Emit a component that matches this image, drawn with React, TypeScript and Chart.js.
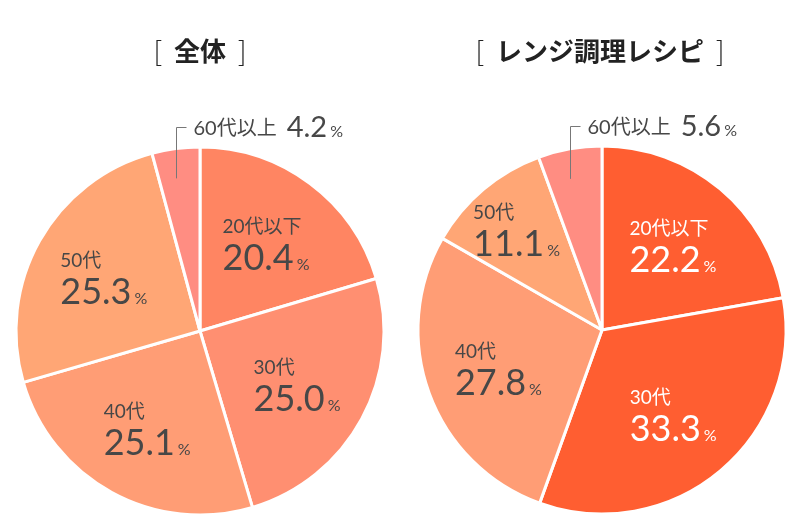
import React, { useEffect, useRef } from "react";
import { Chart, registerables } from "chart.js";

Chart.register(...registerables);

// Age groups shared by both pies, clockwise from 12 o'clock
const ageGroups = ["20代以下", "30代", "40代", "50代", "60代以上"];

// Share of users per age group (%)
const overallShares = [20.4, 25.0, 25.1, 25.3, 4.2];
const microwaveShares = [22.2, 33.3, 27.8, 11.1, 5.6];

const overallTitle = "全体";
const microwaveTitle = "レンジ調理レシピ";

const overallColors = ["#FF8562", "#FF8F71", "#FF9D75", "#FFA675", "#FF8D82"];
const microwaveColors = ["#FF5E31", "#FF5E31", "#FF9D75", "#FFA675", "#FF8D82"];

// Slices whose labels are drawn in white
const overallWhiteLabels = [false, false, false, false, false];
const microwaveWhiteLabels = [true, true, false, false, false];

const FONT = '"Lato", "Noto Sans CJK JP", sans-serif';
const JP = '"Noto Sans CJK JP", sans-serif';
const DARK = "#474747";

type PieProps = {
  title: string;
  values: number[];
  colors: string[];
  whiteLabels: boolean[];
  padding: { left: number; right: number; top: number; bottom: number };
};

function drawValue(
  ctx: CanvasRenderingContext2D,
  x: number,
  y: number,
  value: number,
  bigSize: number,
  pctSize: number,
  color: string
) {
  ctx.fillStyle = color;
  ctx.textBaseline = "alphabetic";
  ctx.textAlign = "left";
  const num = value.toFixed(1);
  ctx.font = `400 ${bigSize}px ${FONT}`;
  ctx.fillText(num, x, y);
  const w = ctx.measureText(num).width;
  ctx.font = `400 ${pctSize}px ${FONT}`;
  ctx.fillText("%", x + w + 3, y);
}

function valueWidth(ctx: CanvasRenderingContext2D, value: number, bigSize: number, pctSize: number) {
  ctx.font = `400 ${bigSize}px ${FONT}`;
  const w = ctx.measureText(value.toFixed(1)).width;
  ctx.font = `400 ${pctSize}px ${FONT}`;
  return w + 3 + ctx.measureText("%").width;
}

function PieChart({ title, values, colors, whiteLabels, padding }: PieProps) {
  const ref = useRef<HTMLCanvasElement | null>(null);

  useEffect(() => {
    const canvas = ref.current;
    if (!canvas) return;

    const labelPlugin = {
      id: "sliceLabels",
      afterDraw(chart: any) {
        const ctx: CanvasRenderingContext2D = chart.ctx;
        const meta = chart.getDatasetMeta(0);
        const data = chart.data.datasets[0].data as number[];
        const labels = chart.data.labels as string[];
        ctx.save();

        // Title with thin brackets and a bold caption
        const titleY = 51;
        ctx.textBaseline = "middle";
        ctx.textAlign = "left";
        ctx.font = `700 26px ${JP}`;
        const tw = ctx.measureText(title).width;
        ctx.font = `300 27px ${JP}`;
        const bw = ctx.measureText("[").width;
        const gap = 12;
        const total = bw + gap + tw + gap + bw;
        const tx = chart.width / 2 - total / 2;
        ctx.fillStyle = "#222";
        ctx.fillText("[", tx, titleY);
        ctx.fillText("]", tx + bw + gap + tw + gap, titleY);
        ctx.font = `700 26px ${JP}`;
        ctx.fillText(title, tx + bw + gap, titleY);

        meta.data.forEach((arc: any, i: number) => {
          const { x, y, startAngle, endAngle, outerRadius } = arc.getProps(
            ["x", "y", "startAngle", "endAngle", "outerRadius"],
            true
          );
          const mid = (startAngle + endAngle) / 2;
          const share = data[i];
          const color = whiteLabels[i] ? "#ffffff" : DARK;

          if (share < 8) {
            // Small slice: leader line up and out of the pie
            const a = startAngle + (endAngle - startAngle) * 0.4;
            const px = Math.round(x + Math.cos(a) * outerRadius * 0.84) + 0.5;
            const py = y + Math.sin(a) * outerRadius * 0.84;
            const topY = Math.round(y - outerRadius - 20) + 0.5;
            ctx.strokeStyle = "#777";
            ctx.lineWidth = 1;
            ctx.beginPath();
            ctx.moveTo(px, py);
            ctx.lineTo(px, topY);
            ctx.lineTo(px + 10, topY);
            ctx.stroke();
            ctx.fillStyle = DARK;
            ctx.font = `400 20px ${FONT}`;
            ctx.textAlign = "left";
            ctx.textBaseline = "alphabetic";
            const lx = px + 17;
            const base = topY + 7;
            ctx.fillText(labels[i], lx, base);
            const lw = ctx.measureText(labels[i]).width;
            drawValue(ctx, lx + lw + 10, base + 2, share, 29, 16, DARK);
            return;
          }

          const f = share < 15 ? 0.72 : 0.6;
          const cx = x + Math.cos(mid) * outerRadius * f;
          const cy = y + Math.sin(mid) * outerRadius * f;
          ctx.font = `400 19px ${FONT}`;
          const catW = ctx.measureText(labels[i]).width;
          const valW = valueWidth(ctx, share, 36, 16);
          const left = cx - Math.max(catW, valW) / 2;
          ctx.fillStyle = color;
          ctx.textAlign = "left";
          ctx.textBaseline = "alphabetic";
          ctx.font = `400 19px ${FONT}`;
          ctx.fillText(labels[i], left, cy - 10);
          drawValue(ctx, left, cy + 27, share, 36, 16, color);
        });
        ctx.restore();
      },
    };

    const chart = new Chart(canvas, {
      type: "pie",
      data: {
        labels: ageGroups,
        datasets: [
          {
            data: values,
            backgroundColor: colors,
            borderColor: "#ffffff",
            borderWidth: 3,
          },
        ],
      },
      options: {
        responsive: false,
        animation: false,
        devicePixelRatio: 1,
        layout: { padding },
        plugins: {
          legend: { display: false },
          tooltip: { enabled: false },
          title: { display: false },
        },
      },
      plugins: [labelPlugin],
    });
    return () => chart.destroy();
  }, [title, values, colors, whiteLabels, padding]);

  return <canvas ref={ref} width={400} height={531} style={{ display: "block" }} />;
}

const leftPadding = { left: 14.5, right: 14.5, top: 145.5, bottom: 14.5 };
const rightPadding = { left: 16.5, right: 12.5, top: 144.5, bottom: 15.5 };

export default function App() {
  return (
    <div
      style={{
        position: "fixed",
        left: 0,
        top: 0,
        width: 800,
        height: 531,
        display: "flex",
        background: "#ffffff",
      }}
    >
      <PieChart
        title={overallTitle}
        values={overallShares}
        colors={overallColors}
        whiteLabels={overallWhiteLabels}
        padding={leftPadding}
      />
      <PieChart
        title={microwaveTitle}
        values={microwaveShares}
        colors={microwaveColors}
        whiteLabels={microwaveWhiteLabels}
        padding={rightPadding}
      />
    </div>
  );
}
